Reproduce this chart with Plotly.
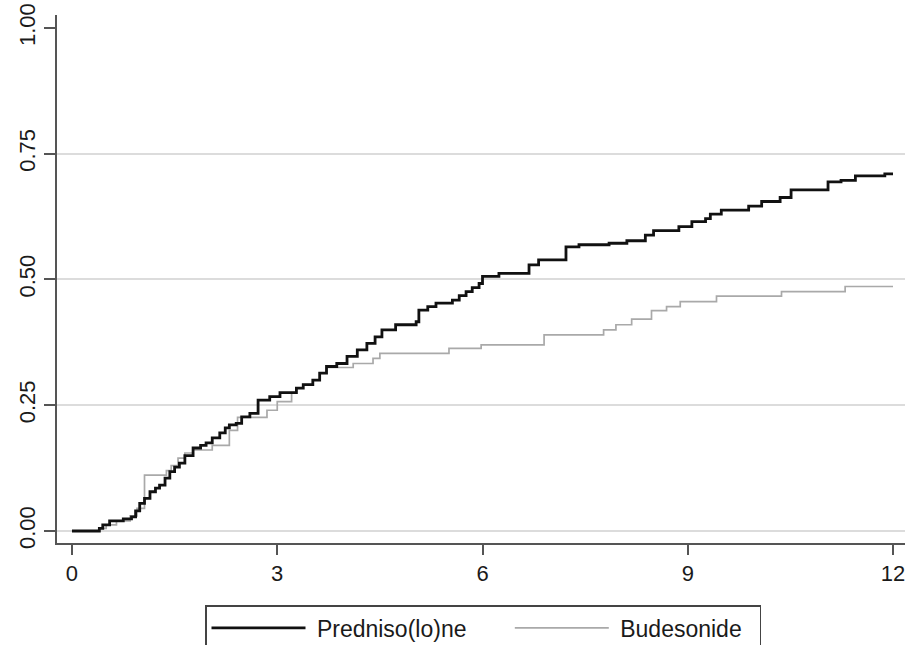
import plotly.graph_objects as go

# Cumulative incidence
t_pred = [0, 0.40, 0.45, 0.55, 0.75, 0.87, 0.93, 0.99, 1.06, 1.14, 1.22, 1.28, 1.36, 1.43, 1.50,
          1.57, 1.65, 1.77, 1.88, 1.96, 2.05, 2.16, 2.24, 2.30, 2.40, 2.48, 2.60, 2.72, 2.89, 3.04,
          3.28, 3.38, 3.52, 3.62, 3.72, 3.87, 4.02, 4.17, 4.31, 4.43, 4.53, 4.73, 5.03, 5.07, 5.20,
          5.32, 5.56, 5.66, 5.76, 5.85, 5.95, 6.00, 6.24, 6.68, 6.82, 7.22, 7.41, 7.85, 8.11, 8.38,
          8.50, 8.87, 9.06, 9.26, 9.33, 9.49, 9.89, 10.08, 10.35, 10.51, 11.05, 11.24, 11.45, 11.88, 12.00]
y_pred = [0, 0.005, 0.012, 0.020, 0.024, 0.028, 0.040, 0.055, 0.065, 0.078, 0.085, 0.091, 0.105, 0.118, 0.127,
          0.135, 0.150, 0.165, 0.170, 0.175, 0.185, 0.195, 0.205, 0.211, 0.214, 0.227, 0.234, 0.260, 0.267, 0.275,
          0.284, 0.291, 0.300, 0.314, 0.327, 0.333, 0.347, 0.360, 0.373, 0.386, 0.400, 0.410, 0.416, 0.439, 0.446,
          0.453, 0.459, 0.468, 0.476, 0.484, 0.492, 0.506, 0.512, 0.529, 0.539, 0.565, 0.569, 0.572, 0.577, 0.588,
          0.597, 0.605, 0.615, 0.621, 0.630, 0.638, 0.646, 0.655, 0.663, 0.678, 0.694, 0.697, 0.706, 0.710, 0.710]

t_bud = [0, 0.40, 0.50, 0.65, 0.85, 0.95, 1.06, 1.38, 1.45, 1.55, 1.65, 1.77, 2.05, 2.30, 2.42,
         2.85, 3.00, 3.21, 3.28, 3.38, 3.52, 3.62, 3.72, 4.11, 4.40, 4.50, 5.51, 5.98, 6.90, 7.77,
         7.95, 8.18, 8.47, 8.69, 8.89, 9.42, 10.37, 11.30, 12.00]
y_bud = [0, 0.005, 0.012, 0.020, 0.030, 0.045, 0.111, 0.120, 0.130, 0.145, 0.155, 0.161, 0.170, 0.200, 0.226,
         0.240, 0.257, 0.275, 0.284, 0.291, 0.300, 0.314, 0.325, 0.333, 0.343, 0.353, 0.363, 0.370, 0.390, 0.400,
         0.410, 0.421, 0.438, 0.446, 0.456, 0.467, 0.476, 0.486, 0.486]

x_ticks = [0, 3, 6, 9, 12]
y_ticks = [0, 0.25, 0.5, 0.75, 1.0]
y_grid = [0, 0.25, 0.5, 0.75]
names = ["Predniso(lo)ne", "Budesonide"]

FONT = "Liberation Sans, Arial, sans-serif"
AXIS_COL = "#555555"
NB = "\u00a0"

fig = go.Figure()
fig.add_trace(go.Scatter(x=t_bud, y=y_bud, mode="lines", line_shape="hv",
                         name=NB + names[1] + NB * 2,
                         line=dict(color="#a9a9a9", width=1.7)))
fig.add_trace(go.Scatter(x=t_pred, y=y_pred, mode="lines", line_shape="hv",
                         name=NB + names[0] + NB * 6,
                         line=dict(color="#111111", width=2.8)))
# helper trace that activates the grid-only axis
fig.add_trace(go.Scatter(x=[None], y=[None], yaxis="y2", showlegend=False, hoverinfo="skip"))

W, H = 912, 645
ML, MR, MT, MB = 57, 7, 15, 102
xr = [-0.219, 12.175]
yr = [-0.0239, 1.0258]
pw, ph = W - ML - MR, H - MT - MB

fig.update_layout(
    width=W, height=H,
    margin=dict(l=ML, r=MR, t=MT, b=MB, pad=0, autoexpand=False),
    paper_bgcolor="white", plot_bgcolor="white",
    font=dict(family=FONT, size=22, color="#1a1a1a"),
    xaxis=dict(range=xr, tickvals=x_ticks, ticktext=[str(v) for v in x_ticks],
               showgrid=False, zeroline=False, showline=True, linecolor=AXIS_COL, linewidth=1.5,
               ticks="outside", ticklen=10, tickwidth=1.5, tickcolor=AXIS_COL,
               tickfont=dict(size=22), ticklabeloverflow="allow"),
    yaxis=dict(range=yr, tickvals=y_ticks, ticktext=[f"{v:.2f}" for v in y_ticks],
               tickangle=-90, showgrid=False, zeroline=False, showline=True,
               linecolor=AXIS_COL, linewidth=1.5,
               ticks="outside", ticklen=11, tickwidth=1.5, tickcolor=AXIS_COL,
               tickfont=dict(size=22), ticklabeloverflow="allow"),
    yaxis2=dict(range=yr, overlaying="y", tickvals=y_grid, showticklabels=False,
                showgrid=True, gridcolor="#dcdcdc", gridwidth=1.5, zeroline=False,
                showline=False, ticks=""),
    showlegend=True,
    legend=dict(orientation="h", x=(205 - ML) / pw, y=(H - MB - 605) / ph,
                xanchor="left", yanchor="top", traceorder="reversed",
                bordercolor="#444444", borderwidth=1.5, bgcolor="white",
                itemwidth=94, font=dict(size=23, family=FONT, color="#1a1a1a")),
)

# remove the default 8px page margin so the figure fills the window exactly
fig.write_html("out.html", config={"displayModeBar": False},
               post_script="document.body.style.margin='0';document.body.style.overflow='hidden';")
